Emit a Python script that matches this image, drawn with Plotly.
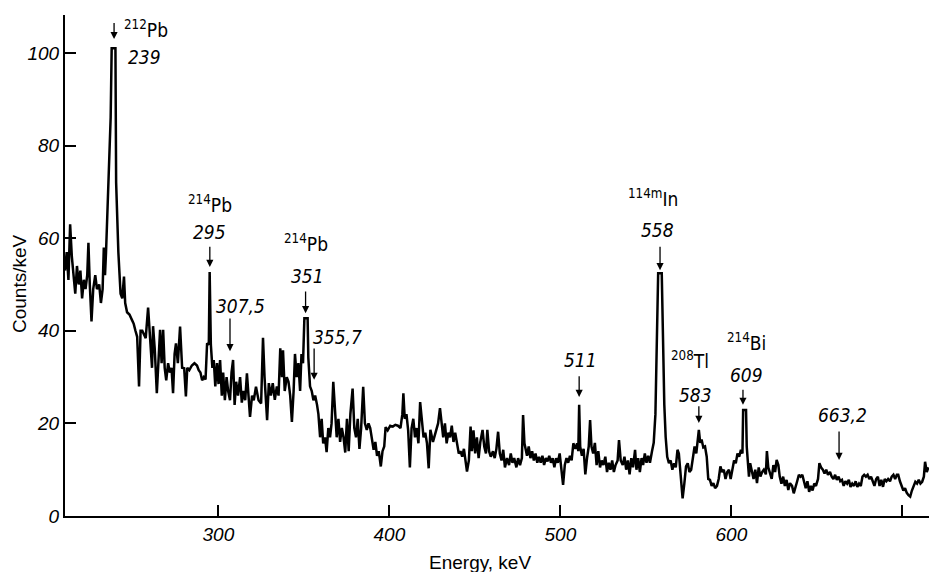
import plotly.graph_objects as go

# ---------------- data ----------------
energy_kev = [
    210.3, 211.3, 212.3, 213.3, 214.3, 215.3, 216.3, 217.3, 218.3, 219.3, 220.3, 221.3, 222.3, 223.3,
    224.0, 224.8, 225.8, 226.8, 228.0, 229.0, 230.3, 231.3, 232.3, 233.0, 233.7, 234.3, 235.0, 236.0,
    237.0, 237.6, 239.8, 240.2, 241.5, 242.8, 243.8, 244.8, 245.5, 246.6, 248.0, 249.5, 250.5, 251.5,
    252.5, 253.6, 254.5, 255.5, 256.5, 257.5, 258.9, 259.8, 260.6, 261.2, 261.8, 262.8, 264.0, 265.0,
    265.9, 266.8, 267.7, 268.6, 269.5, 270.6, 271.6, 272.6, 273.5, 274.4, 275.2, 276.3, 277.6, 278.8,
    280.0, 281.0, 281.8, 283.0, 284.5, 286.0, 287.5, 288.5, 289.5, 290.5, 291.5, 292.5, 293.4, 294.4,
    294.9, 295.6, 296.5, 297.3, 298.2, 299.2, 300.1, 301.0, 302.0, 302.8, 303.8, 304.8, 305.7, 306.8,
    307.7, 308.6, 309.5, 310.4, 311.5, 312.7, 313.7, 314.7, 315.7, 316.7, 317.6, 318.5, 319.7, 320.7,
    322.0, 323.5, 325.0, 326.1, 327.0, 328.5, 329.5, 330.7, 331.8, 333.0, 334.2, 335.2, 336.2, 337.2,
    337.8, 338.8, 340.0, 341.0, 342.0, 343.0, 344.0, 344.8, 345.8, 346.8, 347.8, 348.6, 349.5, 350.3,
    352.2, 352.6, 353.6, 354.6, 355.6, 356.6, 357.7, 358.5, 359.5, 360.4, 361.3, 362.4, 363.3, 364.3,
    365.3, 366.2, 367.2, 368.2, 369.2, 370.2, 371.2, 372.2, 373.2, 374.2, 375.2, 376.2, 377.2, 378.5,
    379.5, 380.5, 381.5, 382.5, 383.5, 384.7, 385.7, 386.8, 387.8, 388.8, 389.8, 390.8, 391.8, 392.8,
    393.8, 395.0, 396.0, 397.0, 397.8, 399.0, 400.5, 402.0, 403.5, 405.0, 406.5, 407.6, 408.2, 409.0,
    410.0, 411.0, 412.0, 413.0, 414.0, 415.0, 416.0, 417.0, 418.0, 419.0, 420.0, 421.0, 422.0, 423.0,
    424.0, 425.5, 427.0, 428.5, 429.6, 430.6, 431.5, 432.5, 433.5, 434.5, 435.5, 436.5, 437.5, 438.5,
    439.6, 440.6, 441.6, 442.6, 443.6, 444.5, 445.4, 446.5, 447.5, 448.3, 449.2, 450.2, 451.2, 452.2,
    453.2, 454.5, 455.5, 456.5, 457.3, 458.3, 459.3, 460.6, 461.6, 462.6, 463.6, 464.6, 465.6, 466.6,
    467.6, 468.8, 470.0, 471.0, 472.0, 473.0, 474.3, 475.3, 476.4, 477.5, 478.2, 479.0, 480.5, 481.5,
    482.5, 483.5, 484.5, 485.5, 486.5, 487.5, 488.5, 489.5, 490.5, 491.5, 492.5, 493.5, 494.5, 495.5,
    496.5, 497.5, 498.5, 499.6, 500.6, 501.6, 502.6, 503.6, 504.6, 505.6, 506.6, 507.6, 508.8, 509.8,
    510.5, 511.0, 511.6, 512.6, 513.6, 514.6, 515.6, 516.6, 517.4, 518.2, 519.2, 520.2, 521.2, 522.2,
    523.2, 524.2, 525.2, 526.3, 527.3, 528.3, 529.3, 530.3, 531.3, 532.3, 533.5, 534.3, 535.3, 536.5,
    537.5, 538.5, 539.5, 540.5, 541.5, 542.5, 543.7, 544.5, 545.5, 546.5, 547.5, 548.4, 549.4, 550.4,
    551.4, 552.4, 553.6, 554.6, 555.6, 556.5, 557.2, 559.3, 560.0, 560.8, 561.6, 562.5, 563.5, 564.5,
    565.5, 566.5, 567.5, 568.5, 569.3, 570.3, 571.5, 572.5, 573.5, 574.5, 575.5, 576.5, 577.6, 578.5,
    579.5, 580.3, 581.0, 581.8, 582.6, 583.6, 584.6, 585.6, 586.5, 587.5, 588.5, 589.5, 590.5, 591.6,
    592.6, 593.6, 594.6, 595.6, 596.6, 597.6, 598.6, 599.6, 600.6, 601.6, 602.6, 603.6, 604.6, 605.6,
    606.5, 606.9, 608.6, 609.0, 609.6, 610.3, 611.0, 612.0, 613.0, 614.0, 615.0, 616.0, 617.0, 618.0,
    619.0, 620.2, 620.8, 621.6, 622.6, 623.6, 624.6, 625.6, 626.5, 627.5, 628.3, 629.3, 630.3, 631.3,
    632.3, 633.3, 634.3, 635.5, 636.5, 637.5, 638.5, 639.5, 640.5, 641.5, 642.5, 643.5, 644.5, 645.5,
    646.5, 647.5, 648.5, 649.5, 650.7, 651.5, 652.5, 653.5, 654.5, 655.5, 656.5, 657.7, 658.7, 659.7,
    660.7, 661.7, 662.7, 663.7, 664.7, 665.7, 666.7, 667.7, 668.7, 669.7, 670.7, 671.7, 672.7, 673.7,
    674.7, 675.7, 676.7, 677.7, 678.7, 679.7, 680.7, 681.7, 682.7, 683.7, 684.7, 685.7, 686.7, 687.7,
    688.7, 689.7, 690.7, 691.7, 692.8, 693.8, 694.8, 695.8, 696.8, 697.6, 698.6, 699.6, 700.6, 701.6,
    702.6, 703.6, 704.6, 705.6, 706.6, 707.6, 708.6, 709.6, 710.6, 711.6, 712.6, 713.3, 714.3, 715.3,
]

counts_per_kev = [
    53, 57, 51, 63, 56, 52, 48, 54, 50, 53, 47, 51, 49, 52,
    59, 50, 42, 49, 52, 49, 50, 46, 49, 58, 52, 57, 65, 77,
    86, 101, 101, 72, 57, 48, 47, 51.7, 46, 44, 43.5, 42.3, 41.5, 40,
    38.7, 28, 40, 40, 39, 38.4, 45, 39, 36, 32, 41, 36, 26.5, 35,
    40.2, 33, 40.2, 32, 29.3, 33, 31, 32, 26.5, 35, 37.3, 33, 40.9, 32,
    31.9, 25.8, 32, 31.5, 32.5, 33, 32.5, 31.5, 31, 29.3, 30, 29.5, 37.3, 37,
    52.7, 37, 32, 33.7, 28, 33, 28.5, 33.7, 26, 31, 25, 30, 27, 25,
    31, 33.7, 24, 29, 26, 30, 24.5, 27, 25, 30.8, 25, 21.4, 26, 25,
    27.9, 25, 24.3, 38.5, 30, 20.7, 28.7, 26, 28.7, 25.1, 28, 26, 36.2, 30,
    35.8, 27, 30, 29, 26, 20.3, 27, 35, 30, 33, 27, 35, 33, 42.7,
    42.7, 34.2, 28, 27, 25, 26, 24, 22, 17, 21, 15.7, 17, 13.8, 19,
    17, 20, 29, 22, 17, 21, 16, 19, 17, 13.7, 21, 14, 22, 27.5,
    19, 17, 21, 14.5, 19, 27.9, 20, 18.6, 20, 19, 16, 14.3, 16, 13,
    14, 10.7, 14, 15, 19.2, 18.5, 19.5, 19.3, 19.7, 19.5, 19, 22, 26.5, 21,
    22, 18.5, 10.5, 19, 21, 17, 19, 15.7, 24.6, 19.9, 17, 18, 15.7, 10.3,
    18.6, 16, 18, 20, 23.3, 19.5, 17, 20, 15.7, 18, 17, 19.5, 16, 18,
    15.7, 13.5, 14, 12.8, 14.5, 12, 9.6, 12, 19.3, 14, 18.5, 13.5, 17, 12.5,
    16, 18.6, 15, 13.5, 18.6, 14, 12.8, 14, 12.5, 14.5, 18.2, 13.5, 12, 14.3,
    10.5, 12.5, 11, 13.5, 11.5, 12.5, 10.5, 12.5, 11, 12.5, 21.8, 15.7, 13, 15,
    12.5, 14, 12, 13.5, 11.5, 12.8, 11.5, 13, 11, 12.5, 11.8, 13, 11.5, 12.5,
    10.5, 12.5, 11.5, 13.5, 10.5, 6.7, 11, 12.5, 11.5, 13, 12, 15.7, 14.5, 15.7,
    14, 24, 15, 13, 14.5, 9, 12.5, 15, 20.7, 15, 13.5, 15.8, 11, 14,
    10.5, 12, 11, 12.8, 9.5, 11.5, 10, 12, 9.5, 11, 12, 16.4, 12, 11,
    12.8, 10, 12, 9, 12.5, 10.5, 14.3, 10, 12.5, 9.5, 12.5, 11, 13.5, 11.5,
    13, 11.5, 14, 15.8, 22, 39.5, 52.4, 52.4, 37.4, 24, 17, 12.8, 11.4, 12,
    10, 11.4, 10.5, 14.3, 13.5, 9, 3.8, 7, 10.7, 11.4, 9.5, 10, 13.5, 15,
    13.5, 16, 18.6, 15.8, 16.5, 14.8, 15, 12.8, 8, 7.8, 6.5, 7.1, 6, 6.5,
    8, 10.7, 9.5, 10, 8, 9.5, 10, 8, 10, 12, 11.4, 13.5, 12.8, 14.3,
    13.5, 22.9, 22.9, 15, 12, 8.5, 11.4, 10, 8, 10, 7.1, 10.5, 8.5, 9.5,
    10, 9, 14, 10.5, 9, 8, 11, 9.5, 12.1, 11, 8.5, 7, 8.5, 6.5,
    7.8, 5.6, 7.1, 6.5, 4.9, 6, 7.5, 8.9, 8.5, 8.9, 7.1, 6, 7.5, 5.2,
    6.5, 5.5, 7, 6.5, 8, 11.4, 10.5, 10, 9.2, 10, 8.9, 9.5, 8.5, 8,
    8.9, 7.8, 8.5, 7.5, 7.8, 6.5, 7.5, 7, 7.8, 6.3, 7, 6.5, 7.5, 6.3,
    7, 6.5, 8.5, 8.9, 8.5, 8.9, 8, 8.5, 7.5, 6.5, 8, 8.5, 6.5, 7.8,
    6.3, 8, 7.5, 8, 7.5, 8.5, 8.9, 8, 8.9, 8.9, 7.5, 6.5, 5.5, 6,
    5, 4.5, 4.2, 5.5, 6.5, 7.4, 7, 7.8, 7, 7.4, 8.5, 11.7, 9.5, 10.5,
]

x_tickvals = [300, 400, 500, 600, 700]
x_ticktext = ["300", "400", "500", "600", ""]
y_tickvals = [0, 20, 40, 60, 80, 100]
y_ticktext = ["0", "20", "40", "60", "80", "100"]

# arrows: (x, tail y, tip y)
arrows = [
    (239.0, 106.8, 103.0),
    (295.0, 58.5, 53.8),
    (306.8, 43.0, 35.6),
    (351.0, 48.8, 43.8),
    (356.0, 36.5, 29.4),
    (511.0, 30.5, 25.7),
    (558.3, 58.5, 53.1),
    (581.0, 24.0, 20.1),
    (606.8, 27.6, 24.0),
    (663.0, 18.6, 12.1),
]
# energy labels: (text, x, y)
energy_labels = [
    ("239", 256.5, 99.1),
    ("295", 295.0, 61.3),
    ("307,5", 312.7, 45.4),
    ("351", 351.9, 51.8),
    ("355,7", 369.4, 38.7),
    ("511", 511.5, 33.7),
    ("558", 557.0, 61.8),
    ("583", 578.8, 26.1),
    ("609", 608.6, 30.5),
    ("663,2", 665.3, 21.8),
]
# isotope labels: (mass, element, x, y)
isotope_labels = [
    ("212", "Pb", 257.4, 105.2),
    ("214", "Pb", 295.0, 67.4),
    ("214", "Pb", 351.0, 59.0),
    ("114m", "In", 554.2, 68.6),
    ("208", "Tl", 575.8, 33.6),
    ("214", "Bi", 608.6, 37.6),
]

NARROW = "Liberation Sans Narrow, DejaVu Sans Condensed, Liberation Sans, Arial, sans-serif"
SANS = "Liberation Sans, Arial, sans-serif"

fig = go.Figure()
fig.add_trace(go.Scatter(
    x=energy_kev, y=counts_per_kev, mode="lines",
    line=dict(color="black", width=2.5, shape="linear"),
    hoverinfo="skip", showlegend=False,
))

annotations = []
for x, y0, y1 in arrows:
    annotations.append(dict(
        x=x, y=y1, ax=x, ay=y0, xref="x", yref="y", axref="x", ayref="y",
        text="", showarrow=True, arrowhead=2, arrowsize=1.1, arrowwidth=1.3,
        arrowcolor="black", standoff=0, startstandoff=0,
    ))
for t, x, y in energy_labels:
    annotations.append(dict(
        x=x, y=y, xref="x", yref="y", text="<i>" + t + "</i>", showarrow=False,
        font=dict(family=NARROW, size=19, color="black"),
        xanchor="center", yanchor="middle",
    ))
for m, el, x, y in isotope_labels:
    annotations.append(dict(
        x=x, y=y, xref="x", yref="y",
        text="<sup>" + m + "</sup>" + el, showarrow=False,
        font=dict(family=NARROW, size=19, color="black"),
        xanchor="center", yanchor="middle",
    ))
# axis titles
annotations.append(dict(
    x=(480 - 65) / 864.0, y=0, xref="paper", yref="paper", text="Energy, keV",
    showarrow=False, font=dict(family=SANS, size=19, color="black"),
    xanchor="center", yanchor="middle", yshift=-46,
))
annotations.append(dict(
    x=0, y=(516 - 284) / 501.0, xref="paper", yref="paper",
    text="Counts/keV", showarrow=False, textangle=-90,
    font=dict(family=SANS, size=19, color="black"), xanchor="center", yanchor="middle",
    xshift=-46,
))

fig.update_layout(
    width=929, height=572,
    margin=dict(l=65, r=0, t=15, b=56, autoexpand=False),
    paper_bgcolor="white", plot_bgcolor="white",
    showlegend=False,
    annotations=annotations,
    xaxis=dict(
        range=[210.3, 715.6], showgrid=False, zeroline=False, automargin=False,
        showline=True, linecolor="black", linewidth=2,
        ticks="inside", ticklen=11, tickwidth=1.5, tickcolor="black",
        tickvals=x_tickvals, ticktext=x_ticktext,
        tickfont=dict(family=SANS, size=19, color="black", style="italic"),
    ),
    yaxis=dict(
        range=[0, 108.2], showgrid=False, zeroline=False, automargin=False,
        showline=True, linecolor="black", linewidth=2,
        ticks="inside", ticklen=11, tickwidth=1.5, tickcolor="black",
        tickvals=y_tickvals, ticktext=y_ticktext,
        tickfont=dict(family=SANS, size=19, color="black", style="italic"),
    ),
)

fig.write_html(
    "out.html",
    config={"displayModeBar": False},
    post_script="document.body.style.margin='0px';document.body.style.overflow='hidden';",
)
